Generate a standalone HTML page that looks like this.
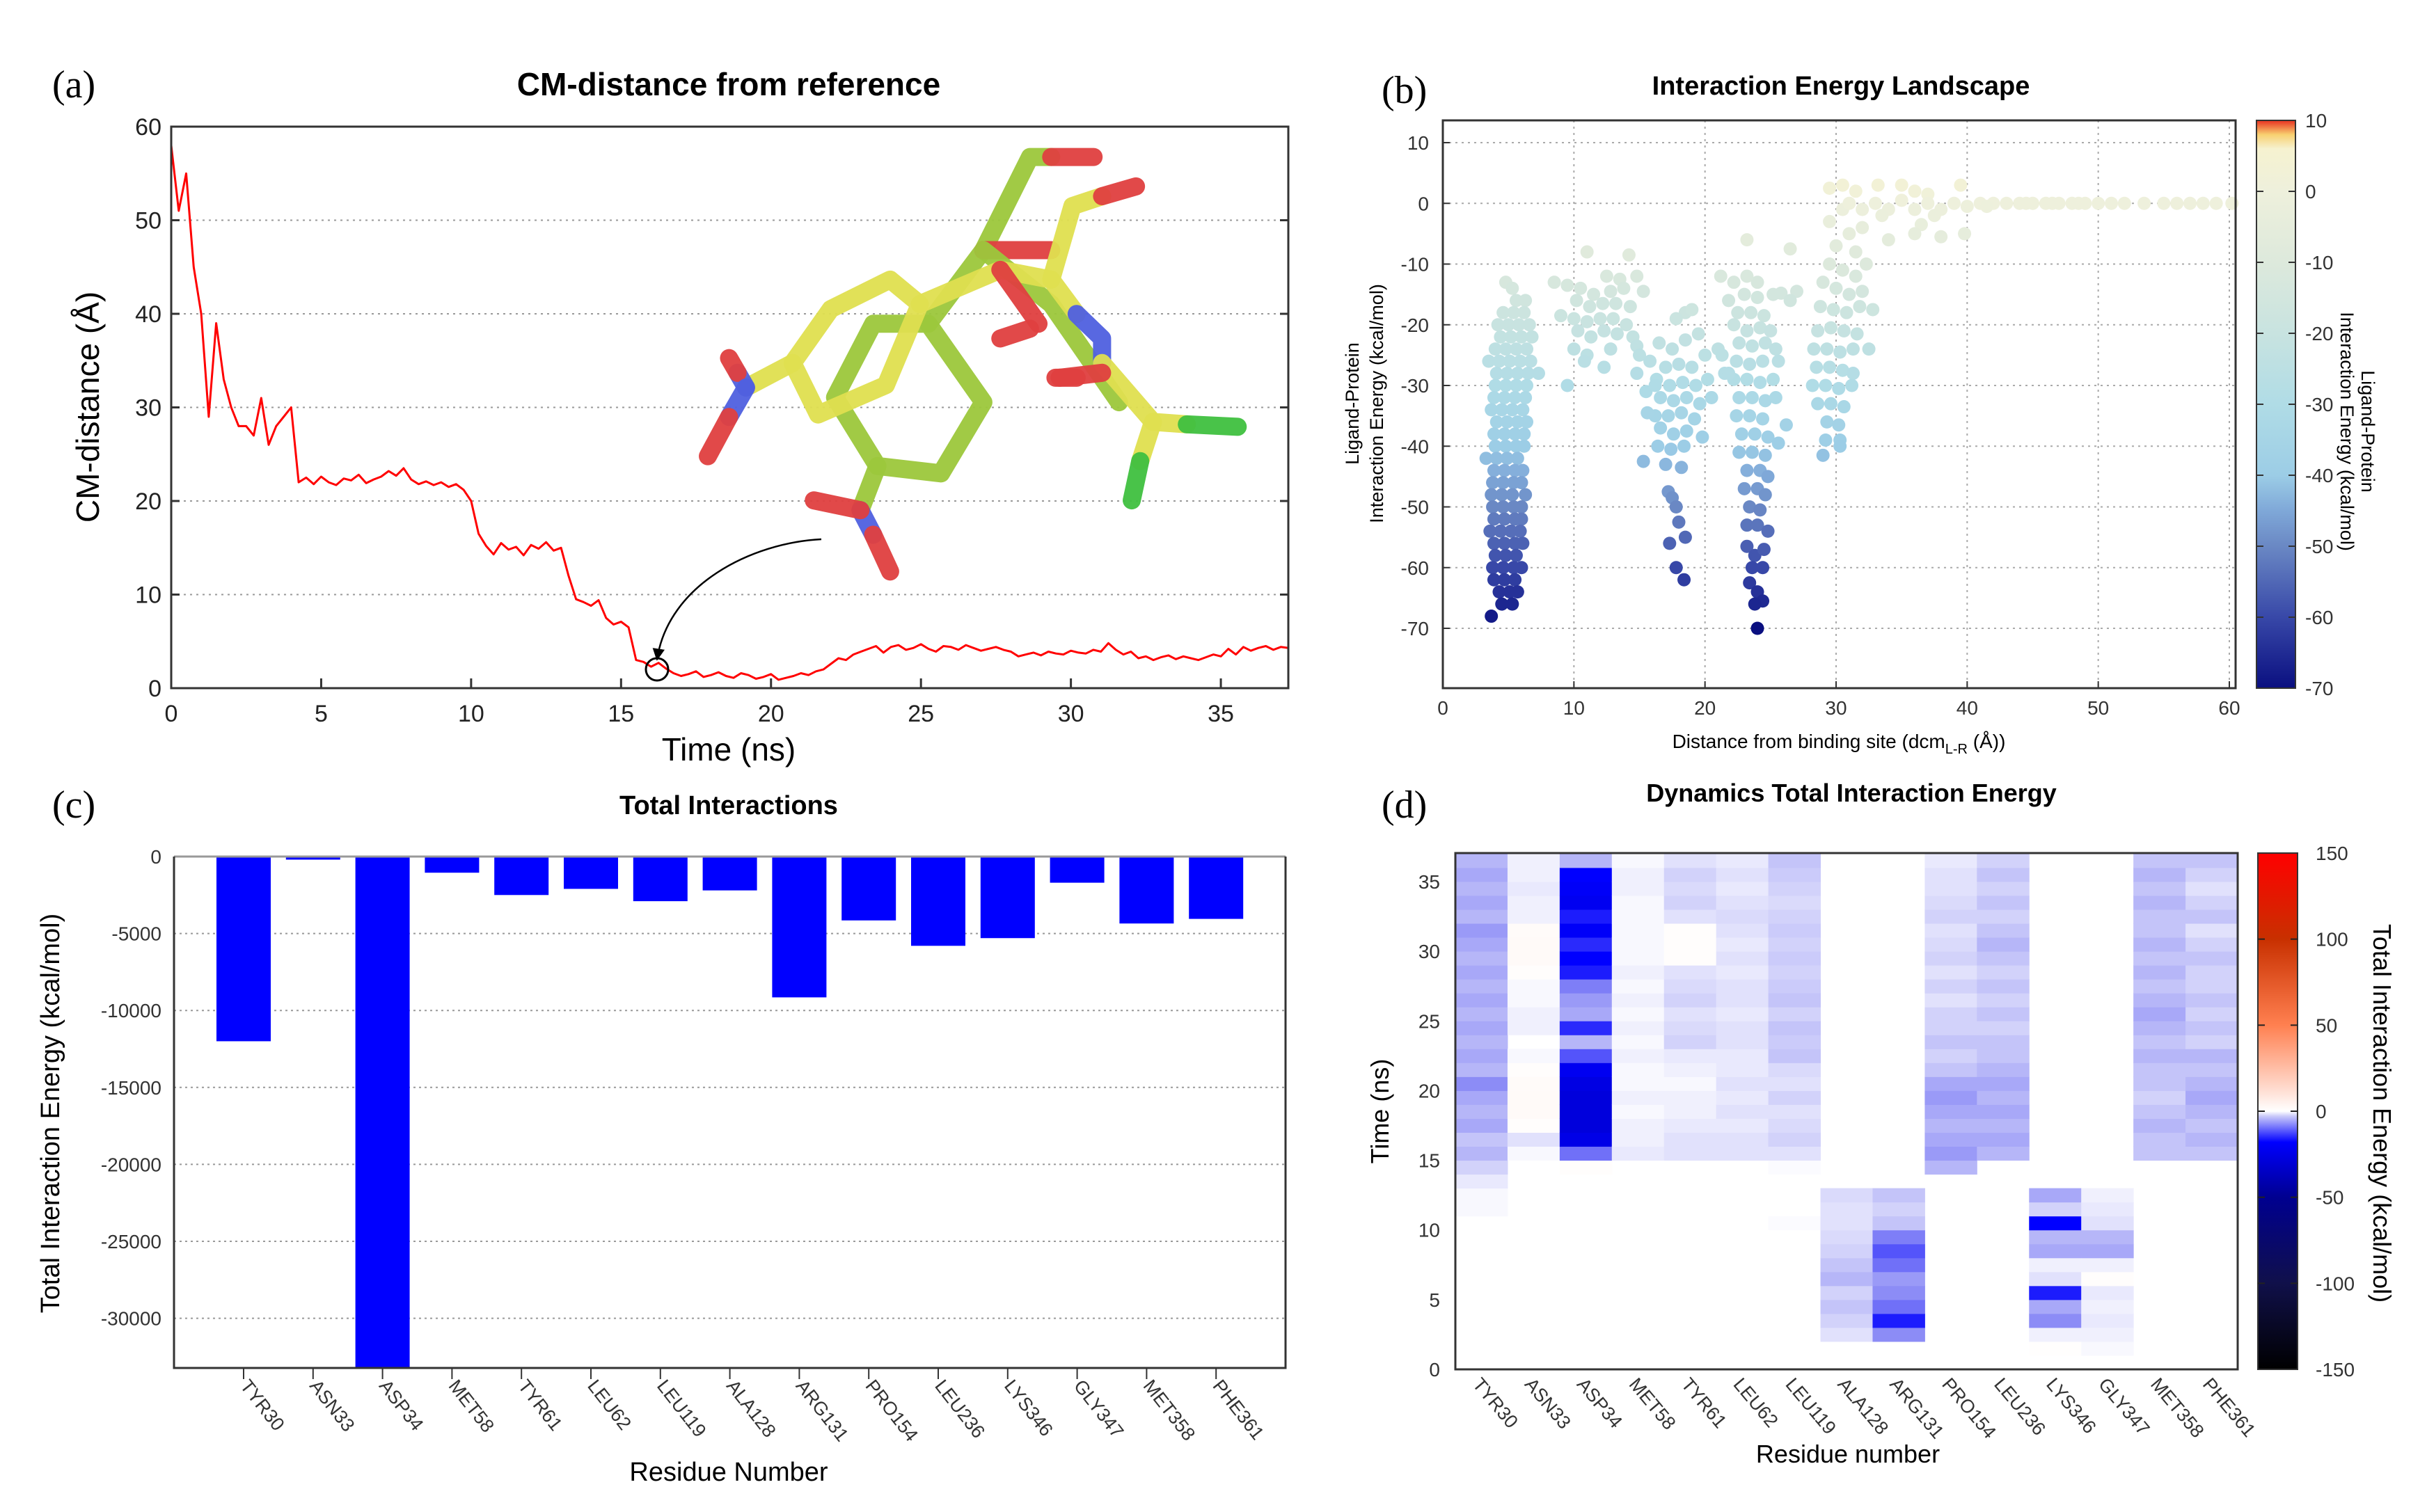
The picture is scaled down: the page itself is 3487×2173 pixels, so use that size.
<!DOCTYPE html>
<html><head><meta charset="utf-8"><style>
html,body{margin:0;padding:0;background:#fff;}
svg{display:block;font-family:"Liberation Sans",sans-serif;}
</style></head><body>
<svg id="fig" xmlns="http://www.w3.org/2000/svg" width="3487" height="2173" viewBox="0 0 3487 2173">
<rect x="0" y="0" width="3487" height="2173" fill="#fff"/>
<defs>
<linearGradient id="gradB" x1="0" y1="1" x2="0" y2="0">
<stop offset="0" stop-color="#0a0f80"/><stop offset="0.125" stop-color="#3848a8"/><stop offset="0.25" stop-color="#6a88c4"/><stop offset="0.3125" stop-color="#7fa8d8"/><stop offset="0.375" stop-color="#9ccde6"/><stop offset="0.5" stop-color="#b0dce6"/><stop offset="0.625" stop-color="#c8e3e0"/><stop offset="0.75" stop-color="#dde9dc"/><stop offset="0.875" stop-color="#eef0dc"/><stop offset="0.95" stop-color="#f6f2d0"/><stop offset="0.975" stop-color="#f8d070"/><stop offset="1" stop-color="#e83020"/>
</linearGradient>
<linearGradient id="gradD" x1="0" y1="1" x2="0" y2="0">
<stop offset="0" stop-color="#000000"/><stop offset="0.1667" stop-color="#10104a"/><stop offset="0.3333" stop-color="#000090"/><stop offset="0.44" stop-color="#0000ff"/><stop offset="0.49" stop-color="#c8c8fa"/><stop offset="0.5" stop-color="#ffffff"/><stop offset="0.55" stop-color="#ffd6c8"/><stop offset="0.6667" stop-color="#ff8050"/><stop offset="0.8333" stop-color="#c83000"/><stop offset="1" stop-color="#ff0000"/>
</linearGradient>
<marker id="arrowhead" viewBox="0 0 10 10" refX="9" refY="5" markerWidth="7" markerHeight="7" orient="auto"><path d="M0,0 L10,5 L0,10 z" fill="#000"/></marker>
</defs>

<text x="75" y="140" font-family="Liberation Serif,serif" font-size="56">(a)</text>
<text x="1047" y="137" font-size="46" font-weight="bold" text-anchor="middle">CM-distance from reference</text>
<text x="1985" y="148" font-family="Liberation Serif,serif" font-size="56">(b)</text>
<text x="2645" y="136" font-size="38" font-weight="bold" text-anchor="middle">Interaction Energy Landscape</text>
<text x="75" y="1175" font-family="Liberation Serif,serif" font-size="56">(c)</text>
<text x="1047" y="1170" font-size="38" font-weight="bold" text-anchor="middle">Total Interactions</text>
<text x="1985" y="1175" font-family="Liberation Serif,serif" font-size="56">(d)</text>
<text x="2660" y="1152" font-size="36" font-weight="bold" text-anchor="middle">Dynamics Total Interaction Energy</text>

<text transform="translate(142,585) rotate(-90)" font-size="46" text-anchor="middle">CM-distance (Å)</text>
<text x="1047" y="1093" font-size="46" text-anchor="middle">Time (ns)</text>
<text transform="translate(1952,580) rotate(-90)" font-size="27" text-anchor="middle">Ligand-Protein</text>
<text transform="translate(1987,580) rotate(-90)" font-size="27" text-anchor="middle">Interaction Energy (kcal/mol)</text>
<text x="2642" y="1075" font-size="28" text-anchor="middle">Distance from binding site (dcm<tspan font-size="20" dy="8">L-R</tspan><tspan dy="-8"> (Å))</tspan></text>
<text transform="translate(3393,620) rotate(90)" font-size="27" text-anchor="middle">Ligand-Protein</text>
<text transform="translate(3363,620) rotate(90)" font-size="27" text-anchor="middle">Interaction Energy (kcal/mol)</text>
<text transform="translate(85,1600) rotate(-90)" font-size="38" text-anchor="middle">Total Interaction Energy (kcal/mol)</text>
<text x="1047" y="2128" font-size="38" text-anchor="middle">Residue Number</text>
<text transform="translate(1995,1597) rotate(-90)" font-size="36" text-anchor="middle">Time (ns)</text>
<text x="2655" y="2102" font-size="36" text-anchor="middle">Residue number</text>
<text transform="translate(3410,1600) rotate(90)" font-size="36" text-anchor="middle">Total Interaction Energy (kcal/mol)</text>

<g id="ga"></g>
<g id="gb"></g>
<g id="gc"></g>
<g id="gd"></g>
</svg>
<script>
const aStep = 0.25;
const aDist = [58,51,55,45,40,29,39,33,30,28,28,27,31,26,28,29,30,
22,22.5,21.8,22.6,22,21.7,22.4,22.2,22.8,21.9,22.3,22.6,23.2,22.7,23.5,22.3,21.8,22.1,21.7,22.0,21.5,21.8,21.2,
20,16.5,15.2,14.3,15.5,14.8,15.1,14.2,15.3,14.9,15.6,14.7,15.0,12,
9.5,9.2,8.8,9.4,7.5,6.8,7.1,6.5,
3,2.8,2.3,2.7,2.1,1.6,1.3,
1.5,1.8,1.2,1.4,1.7,1.3,1.1,1.6,1.4,1.0,1.2,1.5,0.9,1.1,1.3,1.6,1.4,1.8,
2.0,2.6,3.2,3.0,3.6,3.9,
4.2,4.5,3.8,4.4,4.6,4.1,4.3,4.7,4.2,3.9,4.5,4.4,4.1,4.6,4.3,4.0,4.2,4.4,4.1,3.9,
3.4,3.6,3.8,3.5,3.9,3.7,3.6,4.0,3.8,3.7,4.1,3.9,
4.8,4.1,3.6,3.9,
3.2,3.4,3.0,3.3,3.5,3.1,3.4,3.2,3.0,3.3,3.6,3.4,
4.2,3.6,4.4,4.0,4.3,4.5,4.1,4.4,4.3];
const aXTicks = [0,5,10,15,20,25,30,35];
const aYTicks = [0,10,20,30,40,50,60];

const bX = [4.8,5.3,5.6,6.3,4.6,5.4,6.2,4.2,5.0,5.8,6.6,4.4,5.2,6.0,6.8,4.0,4.8,5.6,6.4,3.5,4.3,5.1,5.9,6.7,4.1,4.9,5.7,6.5,7.3,4.0,4.8,5.6,6.4,3.9,4.7,5.5,6.3,3.7,4.5,5.3,6.1,4.1,4.9,5.7,6.4,3.9,4.7,5.5,6.2,4.0,4.8,5.6,6.2,3.3,4.1,4.9,5.7,3.9,4.7,5.5,6.1,3.8,4.6,5.4,6.0,3.7,4.5,5.3,6.3,3.8,4.6,5.4,6.0,3.9,4.7,5.5,6.0,3.6,4.4,5.2,5.9,3.9,4.7,5.5,6.1,4.0,4.8,5.6,3.8,4.6,5.4,6.0,3.9,4.7,5.5,4.3,5.1,5.7,4.5,5.3,3.7,
11,14.2,8.5,9.5,12.5,13.5,14.8,10.5,11.5,12.8,13.8,15.3,10.2,11.2,12.2,13.2,14.3,9,10,11,12,13,14,10.3,11.3,12.3,13.3,14.5,10,11,12.8,14.8,10.8,12.3,15,9.5,14.8,
16.5,17.5,18.5,19.5,15.8,17,18,19,20,16.3,17.3,18.3,19.3,20.2,15.5,16.6,17.6,18.6,19.6,16.2,17.2,18.2,19.2,16.6,17.6,18.6,19.8,16.4,17.4,18.4,15.3,17,18.2,17.2,17.5,17.8,18,18.5,17.3,17.8,18.4,21,21.5,20.5,16.2,15.6,18.5,17.8,21.2,19,
23.2,22.2,24,21.8,23,24,25.2,22.5,23.5,24.5,22.2,23.2,24.2,25,22.6,23.6,24.6,25.4,22.4,23.4,24.4,25.6,22.2,23.2,24.2,25.2,22.6,23.6,24.6,25.4,22.4,23.4,24.4,26.2,22.8,23.8,24.8,25.6,22.6,23.6,24.6,23.2,24.2,24.8,23.0,24.0,24.6,23.4,24.2,23.2,24.0,24.8,23.2,23.8,24.5,23.6,24.4,23.4,24.0,24.4,23.8,24.0,21.3,21.8,27,26.5,25.8,26.5,23.2,
29.5,30.5,31,30,31.5,32,29.5,30.5,31.5,32.3,29,30,31,32,28.8,29.8,30.8,31.8,32.8,28.6,29.6,30.6,31.6,28.3,29.3,30.3,31.3,32.5,28.5,29.5,30.5,31.3,28.2,29.2,30.2,31.2,28.6,29.6,30.6,29.3,30.2,29.2,30.3,29,30.3,
29.5,30.5,31.5,33.2,35,36,37,39.5,31,32,33,34,35,36,37,38,39,40,41,42,43,44,45,46,47,48,49,50,52,53.5,55,56,57,58,59,60.2,36.5,34,36,38,39.8,33.5,37.5,41.5,44.5,46.5,48.5,51];
const bY = [-13,-14,-16,-16,-18,-18,-18,-20,-20,-20,-20,-22,-22,-22,-22,-24,-24,-24,-24,-26,-26,-26,-26,-26,-28,-28,-28,-28,-28,-30,-30,-30,-30,-32,-32,-32,-32,-34,-34,-34,-34,-36,-36,-36,-36,-38,-38,-38,-38,-40,-40,-40,-40,-42,-42,-42,-42,-44,-44,-44,-44,-46,-46,-46,-46,-48,-48,-48,-48,-50,-50,-50,-50,-52,-52,-52,-52,-54,-54,-54,-54,-56,-56,-56,-56,-58,-58,-58,-60,-60,-60,-60,-62,-62,-62,-64,-64,-64,-66,-66,-68,
-8,-8.5,-13,-13.5,-12,-12.5,-12,-14,-15,-14.5,-14,-14.5,-16,-17,-16.5,-16.5,-17,-18.5,-19,-19.5,-19,-19,-20,-21,-22,-21,-21.5,-22,-24,-25,-24,-23.5,-26,-27,-25,-30,-28,
-23,-24,-22.5,-21.5,-26,-27,-26.5,-27,-25,-29,-30,-29.5,-30,-29,-31,-32,-32.5,-32,-33,-35,-35,-34.5,-35.5,-37,-38,-37.5,-38.5,-40,-40.5,-40,-42.5,-43,-43.5,-47.5,-48.5,-50,-52.5,-55,-56,-60,-62,-24,-28,-32,-30,-34.5,-18,-19,-12,-17.5,
-6,-13,-13,-16,-15,-15.5,-15,-18,-18,-18.5,-20,-21,-20.5,-21,-23,-23.5,-23,-24,-26,-26.5,-26,-26,-29,-29,-29.5,-29,-32,-32,-32.5,-32,-35,-35,-35.5,-36.5,-38,-38,-38.5,-39.5,-41,-41,-41.5,-44,-44,-45,-47,-47,-48,-50,-50.5,-53,-53,-54,-56.5,-58,-57,-60,-60,-62.5,-64,-65.5,-66,-70,-25,-28,-14.5,-7.5,-14.8,-16,-12,
-3,-1,-5,-7,-8,-4,-10,-11,-12,-10,-13,-14,-15,-14.5,-17,-17.5,-18,-17,-17.5,-21,-20.5,-21,-21.5,-24,-24,-24.5,-24,-24,-27,-27,-27.5,-28,-30,-30,-30.5,-30,-33,-33,-33.5,-36,-36.5,-39,-39,-41.5,-40,
2.5,3,2,3,3,2,1.5,3,0,-1,0,-1,0.5,-1,0,-1,0,-0.5,0,0,0,0,0,0,0,0,0,0,0,0,0,0,0,0,0,0,-3.5,-6,-5,-5.5,-5,-2,-2,-0.5,0,0,0,0];
const bXTicks = [0,10,20,30,40,50,60];
const bYTicks = [10,0,-10,-20,-30,-40,-50,-60,-70];
const bCbTicks = [10,0,-10,-20,-30,-40,-50,-60,-70];

const residues = ["TYR30","ASN33","ASP34","MET58","TYR61","LEU62","LEU119","ALA128","ARG131","PRO154","LEU236","LYS346","GLY347","MET358","PHE361"];
const cEnergy = [-12000,-200,-36000,-1050,-2500,-2100,-2900,-2200,-9150,-4150,-5800,-5300,-1700,-4350,-4050];
const cYTicks = [0,-5000,-10000,-15000,-20000,-25000,-30000];

const dTYR30 = [0,0,0,0,0,0,0,0,0,0,0,-0.5,-0.5,-1.5,-3,-5,-4,-6,-5,-6,-8,-5,-6,-5,-6,-5,-6,-5,-6,-5,-6,-7,-5,-6,-5,-6,-5];
const dASN33 = [0,0,0,0,0,0,0,0,0,0,0,0,0,0,0,-0.5,-2,0.5,1,1,0.8,0.5,-0.5,0,-1,-1,-0.5,-0.5,0.5,1,1,0.8,-1,-1,-1.5,-1,-1];
const dASP34 = [0,0,0,0,0,0,0,0,0,0,0,0,0,0,0.5,-10,-25,-28,-28,-28,-26,-22,-12,-5,-15,-6,-7,-9,-16,-18,-15,-20,-16,-22,-20,-18,-5];
const dMET58 = [0,0,0,0,0,0,0,0,0,0,0,0,0,0,0,-1.5,-1,-1,-0.5,-1,-0.5,-0.5,-1,-0.5,-1,-0.5,-1,-0.5,-1,-0.5,-0.5,-0.5,-0.5,-0.5,-1,-1,-0.5];
const dTYR61 = [0,0,0,0,0,0,0,0,0,0,0,0,0,0,0,-2,-2,-1.5,-1,-1,-0.5,-1,-1.5,-3,-2.5,-2,-3,-2.5,-2,0.5,0.5,0.5,-2,-3,-2.5,-3,-2];
const dLEU62 = [0,0,0,0,0,0,0,0,0,0,0,0,0,0,0,-2,-2,-1.5,-2,-1.5,-2,-1.5,-1.5,-2,-2,-1.5,-2,-2,-1.5,-2,-1.5,-2,-2.5,-2,-1.5,-2,-1.5];
const dLEU119 = [0,0,0,0,0,0,0,0,0,0,-0.3,0,0,0,-0.3,-2,-3,-2.5,-2,-3,-2,-2.5,-4,-3.5,-4,-3,-4,-3.5,-3,-3.5,-3,-3.5,-3,-2.5,-3,-3.5,-4];
const dALA128 = [0,0,-2,-3,-4,-3,-5,-4,-3,-2.5,-2,-2,-2.5,0,0,0,0,0,0,0,0,0,0,0,0,0,0,0,0,0,0,0,0,0,0,0,0];
const dARG131 = [0,0,-8,-16,-10,-8,-7,-10,-12,-9,-4,-3,-4,0,0,0,0,0,0,0,0,0,0,0,0,0,0,0,0,0,0,0,0,0,0,0,0];
const dPRO154 = [0,0,0,0,0,0,0,0,0,0,0,0,0,0,-5,-7,-6,-5,-6,-7,-6,-4,-3,-4,-3,-3,-2,-3,-2,-3,-2.5,-2,-3,-2.5,-2,-2,-1.5];
const dLEU236 = [0,0,0,0,0,0,0,0,0,0,0,0,0,0,0,-5,-6,-5,-6,-5,-6,-5,-4,-4,-3,-4,-3,-4,-3,-4,-5,-4,-3,-4,-3,-4,-3];
const dLYS346 = [0,0.3,-1,-8,-6,-16,-2,-1,-6,-5,-18,-3,-6,0,0,0,0,0,0,0,0,0,0,0,0,0,0,0,0,0,0,0,0,0,0,0,0];
const dGLY347 = [0,-0.5,-1,-1.5,-1,-1.5,0.5,-1,-6,-5,-2,-1.5,-1,0,0,0,0,0,0,0,0,0,0,0,0,0,0,0,0,0,0,0,0,0,0,0,0];
const dMET358 = [0,0,0,0,0,0,0,0,0,0,0,0,0,0,0,-4,-4,-5,-4,-3,-4,-4,-5,-4,-5,-6,-5,-4,-5,-4,-5,-4,-4,-5,-4,-5,-4];
const dPHE361 = [0,0,0,0,0,0,0,0,0,0,0,0,0,0,0,-4,-5,-4,-5,-6,-5,-4,-5,-3,-4,-3,-4,-3,-3,-4,-3,-2,-4,-3,-2,-3,-4];
const dColumns = [dTYR30,dASN33,dASP34,dMET58,dTYR61,dLEU62,dLEU119,dALA128,dARG131,dPRO154,dLEU236,dLYS346,dGLY347,dMET358,dPHE361];
const dYTicks = [0,5,10,15,20,25,30,35];
const dCbTicks = [150,100,50,0,-50,-100,-150];

const NS = "http://www.w3.org/2000/svg";
function el(tag, attrs, parent){
  const e = document.createElementNS(NS, tag);
  for (const k in attrs) e.setAttribute(k, attrs[k]);
  parent.appendChild(e);
  return e;
}
function txt(str, attrs, parent){ const e = el("text", attrs, parent); e.textContent = str; return e; }
function hex(c){return [parseInt(c.slice(1,3),16),parseInt(c.slice(3,5),16),parseInt(c.slice(5,7),16)];}
function interp(stops, v){
  if (v <= stops[0][0]) return stops[0][1];
  if (v >= stops[stops.length-1][0]) return stops[stops.length-1][1];
  for (let i=0;i<stops.length-1;i++){
    const a=stops[i], b=stops[i+1];
    if (v>=a[0] && v<=b[0]){
      const t=(v-a[0])/(b[0]-a[0]); const ca=hex(a[1]), cb=hex(b[1]);
      return "rgb("+ca.map((x,j)=>Math.round(x+(cb[j]-x)*t)).join(",")+")";
    }
  }
}
const AX = "#333";

(function(){
  const g = document.getElementById("ga");
  const L=246,R=1851,T=182,B=989;
  const ax = t => L + t*(R-L)/37.25;
  const ay = v => B - v*(B-T)/60;
  aYTicks.forEach(v=>{
    if (v>0 && v<60){
      const gl = el("line",{x1:L,x2:R,y1:ay(v),y2:ay(v),stroke:"#999","stroke-width":2,"stroke-dasharray":"3,6"},g);
      
      
    }
    const tk = el("line",{x1:L,x2:L+12,y1:ay(v),y2:ay(v),stroke:AX,"stroke-width":3},g);
    
    
    const tk2 = el("line",{x1:R-12,x2:R,y1:ay(v),y2:ay(v),stroke:AX,"stroke-width":3},g);
    
    
    const lb = txt(String(v),{x:L-14,y:ay(v)+12,"font-size":34,"text-anchor":"end",fill:"#222"},g);
    
    
  });
  aXTicks.forEach(t=>{
    const tk = el("line",{x1:ax(t),x2:ax(t),y1:B,y2:B-14,stroke:AX,"stroke-width":3},g);
    
    
    const lb = txt(String(t),{x:ax(t),y:B+48,"font-size":34,"text-anchor":"middle",fill:"#222"},g);
    
    
  });
  const mol = el("g",{transform:"scale(1.218,0.705)"},g);
  
  
  const bonds = [
    ["#9cc83c","M1030,660 L1095,660 L1160,820 L1110,965 L1035,950 L985,810 Z"],
    ["#9cc83c","M1035,950 L1015,1040"],["#5060e0","M1015,1040 L1030,1090"],["#e04040","M1030,1090 L1050,1165"],["#e04040","M1015,1040 L960,1020"],
    ["#9cc83c","M1095,660 L1160,510 L1215,320 L1240,320"],["#e04040","M1240,320 L1290,320"],
    ["#e04040","M1160,510 L1240,510"],["#9cc83c","M1160,510 L1240,620 L1320,820"],["#e04040","M1180,690 L1215,670"],["#e04040","M1245,770 L1270,770"],
    ["#e0e050","M1050,570 L1085,620 L1045,785 L965,845 L935,740 L980,630 Z"],
    ["#e0e050","M935,740 L880,790"],["#5060e0","M880,790 L870,760"],["#e04040","M870,760 L860,730"],["#5060e0","M880,790 L860,850"],["#e04040","M860,850 L835,930"],
    ["#e0e050","M1085,620 L1180,550 L1240,570 L1270,640"],["#5060e0","M1270,640 L1300,690 L1300,740"],["#e0e050","M1300,740 L1360,860 L1400,865"],["#40c040","M1400,865 L1460,870"],
    ["#e0e050","M1360,860 L1345,940"],["#40c040","M1345,940 L1335,1020"],
    ["#e04040","M1180,550 L1225,660"],["#e0e050","M1240,570 L1265,420 L1300,400"],["#e04040","M1300,400 L1340,380"],["#e04040","M1300,760 L1250,770"]
  ];
  bonds.forEach(b=>{
    const p = el("path",{d:b[1],fill:"none",stroke:b[0],"stroke-width":26,"stroke-linecap":"round","stroke-linejoin":"round","vector-effect":"non-scaling-stroke",opacity:0.95},mol);
    
    
  });
  const pts = aDist.map((v,i)=>ax(i*aStep).toFixed(1)+","+ay(v).toFixed(1)).join(" ");
  const line = el("polyline",{points:pts,fill:"none",stroke:"#ff0000","stroke-width":3,"stroke-linejoin":"round"},g);
  
  
  const arr = el("path",{d:"M1180,775 C1080,780 960,840 944,948",fill:"none",stroke:"#000","stroke-width":2.5,"marker-end":"url(#arrowhead)"},g);
  
  
  const circ = el("ellipse",{cx:944,cy:962,rx:16,ry:16,fill:"none",stroke:"#000","stroke-width":3},g);
  
  
  const fr = el("rect",{x:L,y:T,width:R-L,height:B-T,fill:"none",stroke:AX,"stroke-width":3},g);
  
  
})();

(function(){
  const g = document.getElementById("gb");
  const L=2073,R=3212,T=173,B=989;
  const bx = d => L + d*(3203-L)/60;
  const by = e => 205 + (10-e)*(903-205)/80;
  bYTicks.forEach(v=>{
    const gl = el("line",{x1:L,x2:R,y1:by(v),y2:by(v),stroke:"#aaa","stroke-width":2,"stroke-dasharray":"3,6"},g);
    
    
    const tk = el("line",{x1:L,x2:L+10,y1:by(v),y2:by(v),stroke:AX,"stroke-width":2},g);
    
    
    const lb = txt(String(v),{x:L-20,y:by(v)+10,"font-size":28,"text-anchor":"end",fill:"#333"},g);
    
    
  });
  bXTicks.forEach(d=>{
    if (d>0){
      const gl = el("line",{x1:bx(d),x2:bx(d),y1:T,y2:B,stroke:"#aaa","stroke-width":2,"stroke-dasharray":"3,6"},g);
      
      
    }
    const tk = el("line",{x1:bx(d),x2:bx(d),y1:B,y2:B-10,stroke:AX,"stroke-width":2},g);
    
    
    const lb = txt(String(d),{x:bx(d),y:B+38,"font-size":28,"text-anchor":"middle",fill:"#333"},g);
    
    
  });
  const cstops = [[-70,"#0a0f80"],[-60,"#3848a8"],[-50,"#6a88c4"],[-45,"#7fa8d8"],[-40,"#9ccde6"],[-30,"#b0dce6"],[-20,"#c8e3e0"],[-10,"#dde9dc"],[0,"#eef0dc"],[6,"#f6f2d0"],[8,"#f8d070"],[10,"#e83020"]];
  bX.forEach((d,i)=>{
    const c = el("circle",{cx:bx(d),cy:by(bY[i]),r:9.5,fill:interp(cstops,bY[i])},g);
    
    
  });
  const fr = el("rect",{x:L,y:T,width:R-L,height:B-T,fill:"none",stroke:AX,"stroke-width":3},g);
  
  
  const cbT=173, cbB=989, cbx=3242, cbw=56;
  const cb = el("rect",{x:cbx,y:cbT,width:cbw,height:cbB-cbT,fill:"url(#gradB)",stroke:AX,"stroke-width":2},g);
  
  
  const cby = v => cbB - (v+70)/80*(cbB-cbT);
  bCbTicks.forEach(v=>{
    const tk = el("line",{x1:cbx,x2:cbx+10,y1:cby(v),y2:cby(v),stroke:"#333","stroke-width":2},g);
    
    
    const tk2 = el("line",{x1:cbx+cbw-10,x2:cbx+cbw,y1:cby(v),y2:cby(v),stroke:"#333","stroke-width":2},g);
    
    
    const lb = txt(String(v),{x:cbx+cbw+14,y:cby(v)+10,"font-size":28,fill:"#333"},g);
    
    
  });
})();

(function(){
  const g = document.getElementById("gc");
  const L=250,R=1847,T=1231,B=1966;
  const cx = i => 350 + i*99.8;
  const cy = v => T + (-v)/5000*110.6;
  cYTicks.forEach(v=>{
    if (v<0){
      const gl = el("line",{x1:L,x2:R,y1:cy(v),y2:cy(v),stroke:"#999","stroke-width":2,"stroke-dasharray":"3,5"},g);
      
      
    }
    const lb = txt(String(v),{x:L-18,y:cy(v)+10,"font-size":28,"text-anchor":"end",fill:"#333"},g);
    
    
  });
  cEnergy.forEach((v,i)=>{
    const y2 = Math.min(cy(v), B);
    const bar = el("rect",{x:cx(i)-39,y:T,width:78,height:y2-T,fill:"#0000ff"},g);
    
    
  });
  const zl = el("line",{x1:L,x2:R,y1:T,y2:T,stroke:"#999","stroke-width":3},g);
  
  
  residues.forEach((r,i)=>{
    const tk = el("line",{x1:cx(i),x2:cx(i),y1:B,y2:B+16,stroke:AX,"stroke-width":2},g);
    
    
    const lb = txt(r,{transform:"translate("+(cx(i)-6)+","+(B+26)+") rotate(52)","font-size":27,fill:"#333"},g);
    
    
  });
  const ax1 = el("path",{d:"M"+L+","+T+" L"+L+","+B+" L"+R+","+B+" L"+R+","+T,fill:"none",stroke:AX,"stroke-width":3},g);
  
  
})();

(function(){
  const g = document.getElementById("gd");
  const L=2091,R=3215,T=1226,B=1968;
  const colW = (R-L)/15;
  const dx = i => L + i*colW;
  const dy = t => B - t*20.03;
  const hstops = [[-150,"#000000"],[-100,"#10104a"],[-50,"#000090"],[-18,"#0000ff"],[-8,"#8c8cf6"],[-3,"#d2d2fa"],[0,"#ffffff"],[3,"#fff0ea"],[20,"#ffd6c8"],[50,"#ff8050"],[100,"#c83000"],[150,"#ff0000"]];
  dColumns.forEach((col,ci)=>{
    col.forEach((v,ti)=>{
      if (v===0) return;
      const top = Math.max(dy(ti+1), T);
      const cell = el("rect",{x:dx(ci),y:top,width:colW+0.5,height:dy(ti)-top+0.5,fill:interp(hstops,v)},g);
      
      
    });
  });
  dYTicks.forEach(t=>{
    const lb = txt(String(t),{x:L-22,y:dy(t)+10,"font-size":28,"text-anchor":"end",fill:"#333"},g);
    
    
  });
  residues.forEach((r,i)=>{
    const lb = txt(r,{transform:"translate("+(dx(i)+colW/2-14)+","+(B+22)+") rotate(50)","font-size":27,fill:"#333"},g);
    
    
  });
  const fr = el("rect",{x:L,y:T,width:R-L,height:B-T,fill:"none",stroke:AX,"stroke-width":3},g);
  
  
  const cbx=3244, cbw=57;
  const cb = el("rect",{x:cbx,y:T,width:cbw,height:B-T,fill:"url(#gradD)",stroke:AX,"stroke-width":2},g);
  
  
  const cby = v => B - (v+150)/300*(B-T);
  dCbTicks.forEach(v=>{
    if (v<150 && v>-150){
      const tk = el("line",{x1:cbx,x2:cbx+10,y1:cby(v),y2:cby(v),stroke:"#222","stroke-width":2},g);
      
      
      const tk2 = el("line",{x1:cbx+cbw-10,x2:cbx+cbw,y1:cby(v),y2:cby(v),stroke:"#222","stroke-width":2},g);
      
      
    }
    const lb = txt(String(v),{x:cbx+cbw+26,y:cby(v)+10,"font-size":28,fill:"#333"},g);
    
    
  });
})();
</script>
</body></html>
